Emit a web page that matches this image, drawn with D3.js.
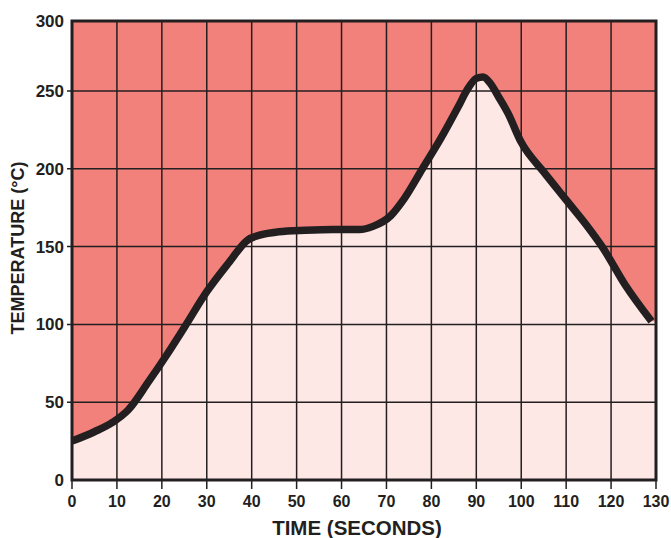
<!DOCTYPE html>
<html>
<head>
<meta charset="utf-8">
<script src="https://cdn.jsdelivr.net/npm/d3@7"></script>
<style>
  body { margin: 0; background: #fff; }
  text { font-family: "Liberation Sans", Arial, Helvetica, sans-serif; font-weight: bold; fill: #231f20; }
</style>
</head>
<body>
<script>
// profile
var times = [0, 5, 9, 12.5, 17, 21, 25, 30, 35, 39, 42, 46, 52, 58, 64, 67, 71, 74, 78, 82, 86, 88, 90, 91.5, 93, 95, 97, 100, 105, 110, 115, 118, 123, 129];
var temps = [25, 31, 37, 45, 63, 80, 98, 121, 140, 154, 157.5, 159.5, 160.5, 161, 161, 163, 170, 181, 200, 219, 240, 251, 259, 260, 256, 246, 236, 217, 198, 180, 162, 150, 126, 102];
var xTicks = [0, 10, 20, 30, 40, 50, 60, 70, 80, 90, 100, 110, 120, 130];
var yTicks = [0, 50, 100, 150, 200, 250, 300];

var W = 671, H = 538;
var svg = d3.select("body").append("svg")
    .attr("width", W)
    .attr("height", H);

var x = d3.scaleLinear().domain([0, 130]).range([72, 656]);
// the printed grid is squeezed in its top band
var y = d3.scaleLinear().domain([0, 250, 300]).range([480, 91, 21]);

var data = times.map(function(t, i) { return {t: t, v: temps[i]}; });

svg.append("clipPath").attr("id", "plot")
  .append("rect")
    .attr("x", x(0)).attr("y", y(300))
    .attr("width", x(130) - x(0)).attr("height", y(0) - y(300));

var g = svg.append("g");

// hot zone background
g.append("rect")
    .attr("x", x(0)).attr("y", y(300))
    .attr("width", x(130) - x(0)).attr("height", y(0) - y(300))
    .attr("fill", "#f2817b");

// area under the profile
var area = d3.area()
    .x(function(d) { return x(d.t); })
    .y0(y(0))
    .y1(function(d) { return y(d.v); })
    .curve(d3.curveMonotoneX);

var under = data.concat([{t: 130, v: data[data.length - 1].v}]);
g.append("path")
    .datum(under)
    .attr("clip-path", "url(#plot)")
    .attr("fill", "#fde8e6")
    .attr("d", area);

// grid
g.selectAll(".vgrid").data(xTicks.slice(1, -1)).enter().append("line")
    .attr("class", "vgrid")
    .attr("x1", function(d) { return x(d); }).attr("x2", function(d) { return x(d); })
    .attr("y1", y(300)).attr("y2", y(0) + 9)
    .attr("stroke", "#231f20").attr("stroke-width", 1.5);

g.selectAll(".hgrid").data(yTicks.slice(1, -1)).enter().append("line")
    .attr("class", "hgrid")
    .attr("x1", x(0) - 5).attr("x2", x(130))
    .attr("y1", function(d) { return y(d); }).attr("y2", function(d) { return y(d); })
    .attr("stroke", "#231f20").attr("stroke-width", 1.5);

// end ticks
g.selectAll(".xend").data([0, 130]).enter().append("line")
    .attr("x1", function(d) { return x(d); }).attr("x2", function(d) { return x(d); })
    .attr("y1", y(0)).attr("y2", y(0) + 9)
    .attr("stroke", "#231f20").attr("stroke-width", 1.5);

// frame
g.append("rect")
    .attr("x", x(0)).attr("y", y(300))
    .attr("width", x(130) - x(0)).attr("height", y(0) - y(300))
    .attr("fill", "none")
    .attr("stroke", "#231f20")
    .attr("stroke-width", 3);

// the profile itself
var line = d3.line()
    .x(function(d) { return x(d.t); })
    .y(function(d) { return y(d.v); })
    .curve(d3.curveMonotoneX);

g.append("path")
    .datum(data)
    .attr("fill", "none")
    .attr("stroke", "#231f20")
    .attr("stroke-width", 7.5)
    .attr("stroke-linejoin", "round")
    .attr("d", line);

// tick labels
svg.selectAll(".xlab").data(xTicks).enter().append("text")
    .attr("x", function(d) { return x(d); })
    .attr("y", 507)
    .attr("text-anchor", "middle")
    .attr("font-size", 16)
    .text(function(d) { return d; });

svg.selectAll(".ylab").data(yTicks).enter().append("text")
    .attr("x", 64)
    .attr("y", function(d) { return y(d) + 6; })
    .attr("text-anchor", "end")
    .attr("font-size", 17)
    .text(function(d) { return d; });

// axis titles
svg.append("text")
    .attr("x", 357)
    .attr("y", 535)
    .attr("text-anchor", "middle")
    .attr("font-size", 20.5)
    .text("TIME (SECONDS)");

svg.append("text")
    .attr("transform", "translate(24,248) rotate(-90)")
    .attr("text-anchor", "middle")
    .attr("font-size", 18)
    .text("TEMPERATURE (°C)");
</script>
</body>
</html>
